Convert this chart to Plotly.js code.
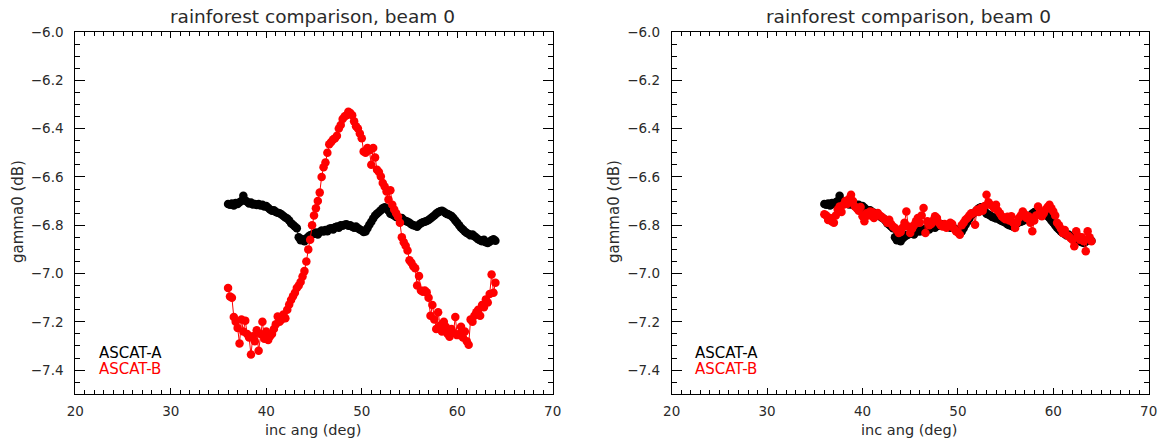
<!DOCTYPE html>
<html>
<head>
<meta charset="utf-8">
<script src="https://cdn.plot.ly/plotly-3.0.1.min.js"></script>
<style>html,body{margin:0;padding:0;background:#fff;}#chart{width:1162px;height:438px;}</style>
</head>
<body>
<div id="chart"></div>
<script>
var incAng = [36.0,36.2,36.4,36.6,36.8,37.0,37.2,37.4,37.6,37.8,38.0,38.2,38.4,38.6,38.8,39.0,39.2,39.4,39.6,39.8,
40.0,40.2,40.4,40.6,40.8,41.0,41.2,41.4,41.6,41.8,42.0,42.2,42.4,42.6,42.8,43.0,43.2,43.4,43.6,43.8,
44.0,44.2,44.4,44.6,44.8,45.0,45.2,45.4,45.6,45.8,46.0,46.2,46.4,46.6,46.8,47.0,47.2,47.4,47.6,47.8,
48.0,48.2,48.4,48.6,48.8,49.0,49.2,49.4,49.6,49.8,50.0,50.2,50.4,50.6,50.8,51.0,51.2,51.4,51.6,51.8,
52.0,52.2,52.4,52.6,52.8,53.0,53.2,53.4,53.6,53.8,54.0,54.2,54.4,54.6,54.8,55.0,55.2,55.4,55.6,55.8,
56.0,56.2,56.4,56.6,56.8,57.0,57.2,57.4,57.6,57.8,58.0,58.2,58.4,58.6,58.8,59.0,59.2,59.4,59.6,59.8,
60.0,60.2,60.4,60.6,60.8,61.0,61.2,61.4,61.6,61.8,62.0,62.2,62.4,62.6,62.8,63.0,63.2,63.4,63.6,63.8,64.0];

var ascatA = [-6.712,-6.715,-6.710,-6.718,-6.708,-6.712,-6.705,-6.700,-6.678,-6.698,-6.703,-6.710,-6.706,-6.714,-6.712,-6.716,-6.712,-6.718,-6.715,-6.722,
-6.720,-6.728,-6.735,-6.740,-6.738,-6.745,-6.748,-6.750,-6.756,-6.762,-6.768,-6.772,-6.780,-6.792,-6.798,-6.805,-6.812,-6.850,-6.862,-6.858,
-6.866,-6.855,-6.848,-6.842,-6.838,-6.835,-6.830,-6.838,-6.828,-6.822,-6.826,-6.820,-6.825,-6.815,-6.812,-6.818,-6.808,-6.805,-6.810,-6.800,
-6.802,-6.798,-6.796,-6.802,-6.800,-6.806,-6.810,-6.805,-6.812,-6.818,-6.822,-6.828,-6.826,-6.812,-6.798,-6.786,-6.772,-6.760,-6.752,-6.745,
-6.738,-6.730,-6.726,-6.732,-6.740,-6.752,-6.756,-6.760,-6.766,-6.768,-6.772,-6.770,-6.778,-6.782,-6.786,-6.790,-6.796,-6.800,-6.802,-6.806,
-6.798,-6.792,-6.788,-6.786,-6.782,-6.778,-6.772,-6.766,-6.760,-6.752,-6.746,-6.742,-6.740,-6.744,-6.750,-6.754,-6.758,-6.762,-6.770,-6.780,
-6.790,-6.800,-6.810,-6.818,-6.826,-6.832,-6.836,-6.842,-6.838,-6.846,-6.852,-6.858,-6.862,-6.866,-6.860,-6.870,-6.874,-6.868,-6.862,-6.858,-6.864];

var ascatBRaw = [-7.060,-7.095,-7.100,-7.180,-7.200,-7.225,-7.290,-7.190,-7.240,-7.195,-7.250,-7.265,-7.335,-7.260,-7.280,-7.235,-7.320,-7.250,-7.200,-7.270,
-7.240,-7.275,-7.260,-7.250,-7.230,-7.210,-7.178,-7.200,-7.190,-7.170,-7.185,-7.150,-7.128,-7.110,-7.094,-7.080,-7.060,-7.050,-7.035,-7.012,
-6.990,-6.950,-6.900,-6.860,-6.800,-6.760,-6.730,-6.700,-6.665,-6.600,-6.560,-6.540,-6.500,-6.465,-6.455,-6.445,-6.440,-6.430,-6.400,-6.385,
-6.360,-6.350,-6.345,-6.330,-6.335,-6.345,-6.370,-6.390,-6.400,-6.420,-6.440,-6.495,-6.500,-6.480,-6.490,-6.550,-6.480,-6.520,-6.570,-6.580,
-6.598,-6.625,-6.640,-6.660,-6.694,-6.655,-6.715,-6.735,-6.750,-6.765,-6.790,-6.850,-6.870,-6.885,-6.905,-6.945,-6.955,-6.970,-6.978,-7.050,
-7.010,-7.070,-7.075,-7.070,-7.078,-7.100,-7.175,-7.130,-7.190,-7.230,-7.160,-7.215,-7.240,-7.200,-7.220,-7.250,-7.262,-7.230,-7.245,-7.180,
-7.255,-7.250,-7.220,-7.265,-7.240,-7.280,-7.295,-7.190,-7.200,-7.175,-7.160,-7.150,-7.175,-7.130,-7.140,-7.107,-7.120,-7.085,-7.004,-7.080,-7.038];

var ascatBCorr = [-6.755,-6.760,-6.778,-6.770,-6.785,-6.790,-6.760,-6.735,-6.722,-6.745,-6.715,-6.700,-6.712,-6.690,-6.674,-6.700,-6.722,-6.730,-6.740,-6.725,
-6.763,-6.784,-6.750,-6.760,-6.743,-6.745,-6.770,-6.755,-6.749,-6.760,-6.765,-6.772,-6.778,-6.790,-6.777,-6.795,-6.805,-6.811,-6.820,-6.832,
-6.828,-6.810,-6.790,-6.743,-6.805,-6.832,-6.815,-6.800,-6.784,-6.770,-6.790,-6.760,-6.729,-6.832,-6.784,-6.800,-6.795,-6.780,-6.763,-6.770,
-6.790,-6.800,-6.805,-6.795,-6.810,-6.800,-6.790,-6.795,-6.815,-6.825,-6.830,-6.839,-6.800,-6.790,-6.777,-6.770,-6.760,-6.750,-6.749,-6.798,
-6.736,-6.745,-6.729,-6.740,-6.720,-6.674,-6.705,-6.715,-6.720,-6.730,-6.715,-6.740,-6.750,-6.763,-6.770,-6.775,-6.765,-6.780,-6.763,-6.790,
-6.811,-6.790,-6.770,-6.760,-6.743,-6.755,-6.770,-6.763,-6.790,-6.825,-6.780,-6.760,-6.722,-6.745,-6.763,-6.750,-6.735,-6.725,-6.715,-6.730,
-6.743,-6.760,-6.790,-6.800,-6.815,-6.832,-6.820,-6.840,-6.845,-6.853,-6.860,-6.887,-6.825,-6.845,-6.860,-6.850,-6.866,-6.908,-6.825,-6.850,-6.866];

var plotTitle = 'rainforest comparison, beam 0';
var xTitle = 'inc ang (deg)';
var yTitle = 'gamma0 (dB)';
var seriesNames = ['ASCAT-A', 'ASCAT-B'];
var seriesColors = ['#000000', '#ff0000'];

var FONT = 'DejaVu Sans, sans-serif';
var TXT = '#2a2a2a';

function mk(x, y, color, xa, ya) {
  return {
    x: x, y: y, xaxis: xa, yaxis: ya, type: 'scatter', mode: 'lines+markers',
    line: {color: color, width: 1},
    marker: {color: color, size: 8.5, symbol: 'circle', line: {width: 0}},
    showlegend: false, hoverinfo: 'skip'
  };
}

var traces = [
  mk(incAng, ascatA, seriesColors[0], 'x', 'y'),
  mk(incAng, ascatBRaw, seriesColors[1], 'x', 'y'),
  mk(incAng, ascatA, seriesColors[0], 'x2', 'y2'),
  mk(incAng, ascatBCorr, seriesColors[1], 'x2', 'y2')
];

var yDom = [1 - 394.3/438, 1 - 32/438];
var xDom1 = [75.3/1162, 552.7/1162];
var xDom2 = [671.7/1162, 1148.7/1162];

function xax(dom, anchor) {
  return {
    domain: dom, anchor: anchor, range: [20, 70], dtick: 10, tick0: 20,
    ticks: 'inside', ticklen: 6, tickwidth: 1, tickcolor: '#000',
    minor: {dtick: 1, ticks: 'inside', ticklen: 4, tickwidth: 1, tickcolor: '#000'},
    showline: true, linecolor: '#000', linewidth: 1, mirror: 'allticks',
    showgrid: false, zeroline: false, fixedrange: true,
    tickfont: {family: FONT, size: 13.5, color: TXT},
    ticklabelstandoff: 4
  };
}
function yax(anchor) {
  return {
    domain: yDom, anchor: anchor, range: [-7.5, -6.0], dtick: 0.2, tick0: -6.0,
    tickformat: '.1f',
    ticks: 'inside', ticklen: 10, tickwidth: 1, tickcolor: '#000',
    minor: {dtick: 0.05, ticks: 'inside', ticklen: 5, tickwidth: 1, tickcolor: '#000'},
    showline: true, linecolor: '#000', linewidth: 1, mirror: 'allticks',
    showgrid: false, zeroline: false, fixedrange: true,
    tickfont: {family: FONT, size: 13.5, color: TXT},
    ticklabelstandoff: 8
  };
}

function ann(text, x, y, color, size, extra) {
  var a = {text: text, xref: 'paper', yref: 'paper', x: x, y: y, showarrow: false,
    font: {family: FONT, size: size, color: color}, xanchor: 'center', yanchor: 'middle'};
  for (var k in extra) a[k] = extra[k];
  return a;
}

var layout = {
  width: 1162, height: 438,
  margin: {l: 0, r: 0, t: 0, b: 0},
  paper_bgcolor: '#fff', plot_bgcolor: '#fff',
  showlegend: false,
  xaxis: xax(xDom1, 'y'),
  yaxis: yax('x'),
  xaxis2: xax(xDom2, 'y2'),
  yaxis2: yax('x2'),
  annotations: [
    ann(plotTitle, 312/1162, 1 - 16/438, TXT, 18.5),
    ann(plotTitle, 908/1162, 1 - 16/438, TXT, 18.5),
    ann(xTitle, 313/1162, 1 - 429.5/438, TXT, 14.5),
    ann(xTitle, 909/1162, 1 - 429.5/438, TXT, 14.5),
    ann(yTitle, 18/1162, 1 - 212/438, TXT, 15, {textangle: -90}),
    ann(yTitle, 614/1162, 1 - 212/438, TXT, 15, {textangle: -90}),
    ann(seriesNames[0], 97/1162, 1 - 353/438, seriesColors[0], 15, {xanchor: 'left'}),
    ann(seriesNames[1], 97/1162, 1 - 369/438, seriesColors[1], 15, {xanchor: 'left'}),
    ann(seriesNames[0], 693/1162, 1 - 353/438, seriesColors[0], 15, {xanchor: 'left'}),
    ann(seriesNames[1], 693/1162, 1 - 369/438, seriesColors[1], 15, {xanchor: 'left'})
  ]
};

Plotly.newPlot('chart', traces, layout, {displayModeBar: false, staticPlot: true});
</script>
</body>
</html>
